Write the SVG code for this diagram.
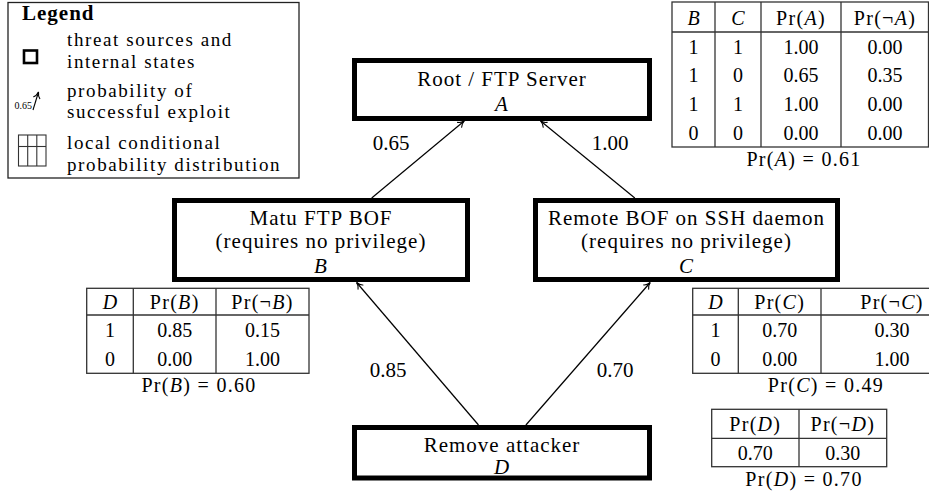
<svg xmlns="http://www.w3.org/2000/svg" width="929" height="497" viewBox="0 0 929 497">
<defs>
<style>
text{font-family:"Liberation Serif","Times New Roman",serif;fill:#000}
.lbl{font-size:21px;text-anchor:middle;letter-spacing:1px}
.num{font-size:21px;text-anchor:middle}
.leg{font-size:19px;letter-spacing:1.6px}
.cell{font-size:20px;text-anchor:middle}
.pr{font-size:20px;text-anchor:middle;letter-spacing:1.3px}
.i{font-style:italic}
.box{fill:#fff;stroke:#000;stroke-width:5}
.tbl{fill:none;stroke:#333;stroke-width:1.3}
.edge{fill:none;stroke:#000;stroke-width:1.2;marker-end:url(#arr)}
</style>
<marker id="arr" viewBox="-8 -5 10 10" refX="0" refY="0" markerWidth="10" markerHeight="10" orient="auto" markerUnits="userSpaceOnUse">
<path d="M-6,-3.2 C-4.5,-1.2 -1.5,-0.3 0,0 C-1.5,0.3 -4.5,1.2 -6,3.2" fill="none" stroke="#000" stroke-width="1.1" stroke-linecap="round"/>
</marker>
</defs>
<rect width="929" height="497" fill="#fff"/>

<g id="legend">
<rect x="8" y="2.5" width="291" height="175.5" fill="#fff" stroke="#222" stroke-width="1.3"/>
<text x="22" y="19.5" style="font-size:21px;font-weight:bold;letter-spacing:1px">Legend</text>
<rect x="24" y="50.5" width="13" height="12.5" fill="none" stroke="#000" stroke-width="2.6"/>
<text class="leg" x="67" y="46">threat sources and</text>
<text class="leg" x="67" y="67.8">internal states</text>
<line x1="33" y1="110" x2="38.5" y2="92" stroke="#000" stroke-width="1.1" marker-end="url(#arr)"/>
<text x="32" y="109" style="font-size:10px;text-anchor:end">0.65</text>
<text class="leg" x="67" y="96.5">probability of</text>
<text class="leg" x="67" y="118.3">successful exploit</text>
<g fill="none" stroke="#333" stroke-width="1.1">
<rect x="18.5" y="135" width="27.5" height="31"/>
<line x1="27.7" y1="135" x2="27.7" y2="166"/>
<line x1="36.8" y1="135" x2="36.8" y2="166"/>
<line x1="18.5" y1="146.5" x2="46" y2="146.5"/>
</g>
<text class="leg" x="67" y="149">local conditional</text>
<text class="leg" x="67" y="170.8">probability distribution</text>
</g>

<g id="connectors">
<line class="edge" x1="371.7" y1="198" x2="464.2" y2="121"/>
<line class="edge" x1="634.8" y1="198" x2="540.6" y2="121"/>
<line class="edge" x1="478.5" y1="425" x2="356.6" y2="282.5"/>
<line class="edge" x1="525.9" y1="425" x2="650.2" y2="282.5"/>
<text class="num" x="391" y="150">0.65</text>
<text class="num" x="610" y="150">1.00</text>
<text class="num" x="388" y="377">0.85</text>
<text class="num" x="615" y="377">0.70</text>
</g>

<g id="node-A">
<rect class="box" x="354.5" y="60.5" width="295" height="58"/>
<text class="lbl" x="502" y="86">Root / FTP Server</text>
<text class="lbl i" x="502" y="111">A</text>
</g>

<g id="node-B">
<rect class="box" x="174.5" y="200.5" width="293" height="79"/>
<text class="lbl" x="321" y="225">Matu FTP BOF</text>
<text class="lbl" x="321" y="248">(requires no privilege)</text>
<text class="lbl i" x="321" y="273">B</text>
</g>

<g id="node-C">
<rect class="box" x="535.5" y="200.5" width="302" height="79"/>
<text class="lbl" x="686.5" y="225">Remote BOF on SSH daemon</text>
<text class="lbl" x="686.5" y="248">(requires no privilege)</text>
<text class="lbl i" x="686.5" y="273">C</text>
</g>

<g id="node-D">
<rect class="box" x="354.5" y="427.5" width="295" height="50.5"/>
<text class="lbl" x="502" y="452">Remove attacker</text>
<text class="lbl i" x="502" y="474">D</text>
</g>

<g id="cpt-A">
<rect class="tbl" x="672" y="2" width="256.5" height="145"/>
<line class="tbl" x1="715" y1="2" x2="715" y2="147"/>
<line class="tbl" x1="761" y1="2" x2="761" y2="147"/>
<line class="tbl" x1="841" y1="2" x2="841" y2="147"/>
<line class="tbl" x1="672" y1="32" x2="928.5" y2="32"/>
<text class="cell i" x="693.5" y="24.5">B</text>
<text class="cell i" x="738" y="24.5">C</text>
<text class="pr" x="801" y="24.5">Pr(<tspan class="i">A</tspan>)</text>
<text class="pr" x="885" y="24.5">Pr(¬<tspan class="i">A</tspan>)</text>
<text class="cell" x="693.5" y="53.5">1</text><text class="cell" x="738" y="53.5">1</text><text class="cell" x="801" y="53.5">1.00</text><text class="cell" x="885" y="53.5">0.00</text>
<text class="cell" x="693.5" y="82">1</text><text class="cell" x="738" y="82">0</text><text class="cell" x="801" y="82">0.65</text><text class="cell" x="885" y="82">0.35</text>
<text class="cell" x="693.5" y="110.5">1</text><text class="cell" x="738" y="110.5">1</text><text class="cell" x="801" y="110.5">1.00</text><text class="cell" x="885" y="110.5">0.00</text>
<text class="cell" x="693.5" y="139.5">0</text><text class="cell" x="738" y="139.5">0</text><text class="cell" x="801" y="139.5">0.00</text><text class="cell" x="885" y="139.5">0.00</text>
<text class="pr" x="804" y="165.5">Pr(<tspan class="i">A</tspan>) = 0.61</text>
</g>

<g id="cpt-B">
<rect class="tbl" x="86.7" y="288.3" width="222.3" height="85"/>
<line class="tbl" x1="133.3" y1="288.3" x2="133.3" y2="373.3"/>
<line class="tbl" x1="216" y1="288.3" x2="216" y2="373.3"/>
<line class="tbl" x1="86.7" y1="315" x2="309" y2="315"/>
<text class="cell i" x="110" y="308.5">D</text>
<text class="pr" x="174.7" y="308.5">Pr(<tspan class="i">B</tspan>)</text>
<text class="pr" x="262.5" y="308.5">Pr(¬<tspan class="i">B</tspan>)</text>
<text class="cell" x="110" y="336.5">1</text><text class="cell" x="174.7" y="336.5">0.85</text><text class="cell" x="262.5" y="336.5">0.15</text>
<text class="cell" x="110" y="365.5">0</text><text class="cell" x="174.7" y="365.5">0.00</text><text class="cell" x="262.5" y="365.5">1.00</text>
<text class="pr" x="199" y="392">Pr(<tspan class="i">B</tspan>) = 0.60</text>
</g>

<g id="cpt-C">
<rect class="tbl" x="692.7" y="288.3" width="268" height="85"/>
<line class="tbl" x1="738.3" y1="288.3" x2="738.3" y2="373.3"/>
<line class="tbl" x1="821" y1="288.3" x2="821" y2="373.3"/>
<line class="tbl" x1="692.7" y1="315" x2="960.7" y2="315"/>
<text class="cell i" x="715.5" y="308.5">D</text>
<text class="pr" x="779.7" y="308.5">Pr(<tspan class="i">C</tspan>)</text>
<text class="pr" x="892" y="308.5">Pr(¬<tspan class="i">C</tspan>)</text>
<text class="cell" x="715.5" y="336.5">1</text><text class="cell" x="779.7" y="336.5">0.70</text><text class="cell" x="892" y="336.5">0.30</text>
<text class="cell" x="715.5" y="365.5">0</text><text class="cell" x="779.7" y="365.5">0.00</text><text class="cell" x="892" y="365.5">1.00</text>
<text class="pr" x="826" y="392">Pr(<tspan class="i">C</tspan>) = 0.49</text>
</g>

<g id="cpt-D">
<rect class="tbl" x="711.7" y="409.3" width="175" height="57.4"/>
<line class="tbl" x1="799" y1="409.3" x2="799" y2="466.7"/>
<line class="tbl" x1="711.7" y1="438.3" x2="886.7" y2="438.3"/>
<text class="pr" x="755.3" y="430.5">Pr(<tspan class="i">D</tspan>)</text>
<text class="pr" x="842.8" y="430.5">Pr(¬<tspan class="i">D</tspan>)</text>
<text class="cell" x="755.3" y="459.5">0.70</text>
<text class="cell" x="842.8" y="459.5">0.30</text>
<text class="pr" x="804" y="486">Pr(<tspan class="i">D</tspan>) = 0.70</text>
</g>
</svg>
